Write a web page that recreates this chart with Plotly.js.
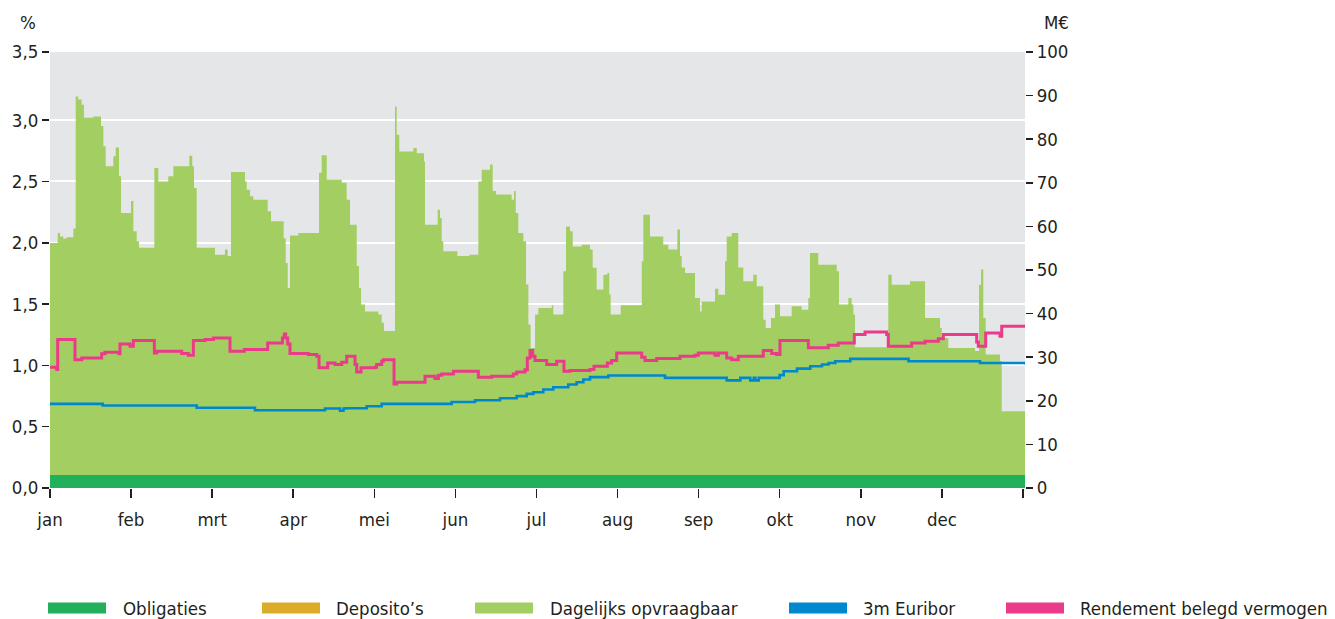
<!DOCTYPE html>
<html>
<head>
<meta charset="utf-8">
<script src="https://cdn.plot.ly/plotly-3.0.1.min.js"></script>
<style>
  html, body { margin: 0; padding: 0; background: #ffffff; }
  #chart { width: 1335px; height: 619px; }
</style>
</head>
<body>
<div id="chart"></div>
<script>
// ---------- DATA ----------
// x positions are in month units (0 = start of jan, 12 = end of dec)
const monthLabels = ['jan', 'feb', 'mrt', 'apr', 'mei', 'jun', 'jul', 'aug', 'sep', 'okt', 'nov', 'dec', ''];
const monthTicks = [0, 1, 2, 3, 4, 5, 6, 7, 8, 9, 10, 11, 12];

// Obligaties (M€, right axis)
const obligX = [0, 12.025];
const obligM = [3, 3];

// Dagelijks opvraagbaar (M€, right axis, stacked on Obligaties), step values
const dagX = [0, 0.095, 0.123, 0.164, 0.206, 0.288, 0.317, 0.349, 0.391, 0.419, 0.534, 0.629, 0.658, 0.687, 0.781, 0.810, 0.851, 0.876, 0.999,
  1.028, 1.069, 1.098, 1.287, 1.336, 1.459, 1.521, 1.718, 1.755, 1.776, 1.809,
  2.035, 2.158, 2.191, 2.232, 2.405, 2.426, 2.467, 2.508, 2.685, 2.726, 2.882, 2.907, 2.932, 2.960,
  3.063, 3.318, 3.351, 3.413, 3.598, 3.659, 3.700, 3.783, 3.811, 3.836, 3.885,
  4.049, 4.091, 4.119, 4.255, 4.276, 4.308, 4.481, 4.523, 4.613, 4.625, 4.781, 4.810, 4.831, 4.851,
  5.024, 5.172, 5.283, 5.324, 5.427, 5.460, 5.501, 5.694, 5.723, 5.744, 5.776, 5.838, 5.871, 5.900, 5.928, 5.982,
  6.023, 6.188, 6.208, 6.331, 6.364, 6.413, 6.447, 6.558, 6.660, 6.693, 6.742, 6.825, 6.874, 6.898, 6.915,
  7.039, 7.298, 7.318, 7.400, 7.564, 7.626, 7.737, 7.770, 7.791, 7.832, 7.955,
  8.017, 8.037, 8.202, 8.243, 8.325, 8.346, 8.408, 8.489, 8.551, 8.674, 8.716, 8.797, 8.827, 8.892, 8.942,
  9.003, 9.147, 9.271, 9.353, 9.373, 9.476, 9.703, 9.731, 9.846, 9.887, 9.908, 9.929,
  10.339, 10.381, 10.607, 10.792, 10.977, 10.998,
  11.079, 11.409, 11.458, 11.483, 11.511, 11.540, 11.717, 11.738, 12.025];
const dagM = [53.2, 55.5, 54.7, 54.2, 54.5, 56.5, 86.8, 86.1, 84.9, 81.9, 82.2, 80.0, 75.4, 70.8, 73.1, 75.1, 68.5, 60.1, 62.8,
  55.9, 53.6, 52.1, 70.4, 67.3, 68.5, 70.8, 73.2, 70.8, 65.8, 52.1,
  50.5, 51.7, 50.2, 69.5, 67.3, 65.4, 63.9, 63.1, 60.5, 58.2, 54.3, 48.6, 42.9, 54.9,
  55.5, 69.3, 73.3, 67.7, 67.0, 63.1, 57.4, 47.9, 42.9, 39.1, 37.5,
  36.8, 34.9, 33.0, 84.5, 78.0, 74.2, 75.0, 73.8, 71.9, 57.4, 60.8, 58.9, 53.6, 51.3,
  50.2, 50.5, 67.3, 70.0, 71.2, 65.1, 64.3, 63.1, 65.1, 60.1, 55.5, 53.6, 43.7, 34.5, 29.1, 36.8,
  38.3, 38.9, 36.8, 46.7, 57.0, 55.9, 52.4, 52.8, 51.7, 47.5, 42.5, 45.9, 46.3, 41.4, 36.8,
  38.9, 49.0, 59.7, 54.7, 52.8, 51.7, 56.3, 50.2, 47.6, 46.3, 40.6,
  37.5, 39.8, 42.7, 41.3, 49.0, 54.7, 55.5, 47.6, 44.4, 45.9, 43.3, 35.6, 33.7, 36.0, 39.1,
  36.4, 38.7, 37.9, 40.6, 50.9, 48.2, 46.7, 39.1, 40.6, 39.1, 36.8, 29.3,
  45.9, 43.6, 44.4, 36.0, 33.7, 31.4,
  29.1, 28.4, 43.6, 47.1, 36.0, 27.6, 26.1, 14.6, 14.6];

// 3m Euribor (%, left axis), step values
const euriborX = [0, 0.650, 1.809, 2.528, 3.392, 3.577, 3.620, 3.651, 3.906, 4.091, 4.954, 5.242, 5.550, 5.756, 5.879, 5.961,
  6.084, 6.207, 6.392, 6.495, 6.578, 6.660, 6.886, 7.585, 8.346, 8.514, 8.637, 8.680, 8.700, 8.741, 8.999,
  9.049, 9.213, 9.377, 9.521, 9.603, 9.685, 9.870, 10.588, 11.470, 12.025];
const euriborP = [0.686, 0.673, 0.654, 0.634, 0.648, 0.630, 0.648, 0.651, 0.667, 0.686, 0.702, 0.716, 0.732, 0.749, 0.768, 0.781,
  0.803, 0.822, 0.844, 0.863, 0.885, 0.904, 0.917, 0.898, 0.878, 0.898, 0.878, 0.898, 0.878, 0.898, 0.921,
  0.952, 0.974, 0.993, 1.007, 1.020, 1.034, 1.053, 1.034, 1.020, 1.007];

// Rendement belegd vermogen (%, left axis), step values
const rendX = [0, 0.082, 0.095, 0.308, 0.391, 0.637, 0.678, 0.851, 0.863, 0.987, 1.028, 1.287, 1.316, 1.624, 1.706, 1.768, 1.912,
  2.015, 2.220, 2.397, 2.685, 2.866, 2.890, 2.907, 2.932, 2.960, 3.186, 3.289, 3.318, 3.425, 3.515, 3.598, 3.659, 3.762, 3.783, 3.836,
  4.008, 4.029, 4.091, 4.111, 4.243, 4.276, 4.625, 4.748, 4.790, 4.831, 4.975, 5.283, 5.447, 5.714, 5.756, 5.858, 5.887, 5.920, 5.953, 5.982,
  6.126, 6.249, 6.339, 6.414, 6.660, 6.709, 6.874, 6.927, 6.989, 7.298, 7.339, 7.482, 7.770, 7.955, 7.996,
  8.202, 8.243, 8.346, 8.408, 8.489, 8.797, 8.901, 8.962, 9.003, 9.353, 9.599, 9.722, 9.920,
  10.052, 10.319, 10.339, 10.627, 10.792, 10.956, 11.018, 11.429, 11.449, 11.540, 11.717, 11.738, 12.025];
const rendP = [0.985, 0.966, 1.211, 1.047, 1.061, 1.094, 1.107, 1.094, 1.175, 1.156, 1.202, 1.102, 1.115, 1.097, 1.083, 1.202, 1.211,
  1.224, 1.115, 1.129, 1.183, 1.224, 1.257, 1.224, 1.175, 1.096, 1.088, 1.075, 0.980, 1.020, 1.007, 1.025, 1.075, 1.007, 0.947, 0.980,
  0.985, 1.007, 1.034, 1.047, 0.849, 0.863, 0.912, 0.893, 0.920, 0.930, 0.952, 0.903, 0.912, 0.930, 0.947, 0.965, 1.061, 1.121, 1.075, 1.039,
  1.007, 1.034, 0.952, 0.958, 0.966, 0.993, 1.020, 1.039, 1.102, 1.067, 1.039, 1.056, 1.075, 1.083, 1.102,
  1.083, 1.102, 1.061, 1.047, 1.075, 1.121, 1.097, 1.088, 1.202, 1.143, 1.164, 1.183, 1.251,
  1.273, 1.251, 1.156, 1.183, 1.197, 1.218, 1.251, 1.190, 1.156, 1.264, 1.237, 1.319, 1.311];

// Axis ticks
const leftTickVals = [0, 0.5, 1, 1.5, 2, 2.5, 3, 3.556];
const leftTickText = ['0,0', '0,5', '1,0', '1,5', '2,0', '2,5', '3,0', '3,5'];
const rightTickVals = [0, 10, 20, 30, 40, 50, 60, 70, 80, 90, 100];

// Legend
const legendLabels = ['Obligaties', 'Deposito’s', 'Dagelijks opvraagbaar', '3m Euribor', 'Rendement belegd vermogen'];
const legendColors = ['#22b05a', '#dcab27', '#a3cf62', '#0088cf', '#ec3a8a'];

// ---------- LAYOUT CONSTANTS ----------
const W = 1335, H = 619;
const M = { l: 50, r: 310, t: 52, b: 131 };
const plotW = W - M.l - M.r, plotH = H - M.t - M.b;
const px2x = px => (px - M.l) / plotW;
const py2y = py => (H - M.b - py) / plotH;
const FONT = "'DejaVu Sans Condensed', 'Liberation Sans Narrow', 'DejaVu Sans', sans-serif";
const FS = 18.5;
const TXT = '#231f20';

const legendRectX = [48, 262, 475, 789, 1006];
const legendTextX = [121, 334, 548, 861, 1078];
const legendY = 608;

// ---------- TRACES ----------
// 'y' = M€ axis (right, base layer), 'y2' = % axis (left, overlay so lines sit on top)
const traces = [
  {
    x: obligX, y: obligM, yaxis: 'y', type: 'scatter', mode: 'lines',
    stackgroup: 'geld', stackgaps: 'interpolate',
    line: { width: 0, shape: 'hv', color: legendColors[0] },
    fillcolor: legendColors[0], name: legendLabels[0], showlegend: false, hoverinfo: 'skip'
  },
  {
    x: dagX, y: dagM, yaxis: 'y', type: 'scatter', mode: 'lines',
    stackgroup: 'geld',
    line: { width: 0, shape: 'hv', color: legendColors[2] },
    fillcolor: legendColors[2], name: legendLabels[2], showlegend: false, hoverinfo: 'skip'
  },
  {
    x: euriborX, y: euriborP, yaxis: 'y2', type: 'scatter', mode: 'lines',
    line: { width: 2.6, shape: 'hv', color: legendColors[3] },
    name: legendLabels[3], showlegend: false, hoverinfo: 'skip'
  },
  {
    x: rendX, y: rendP, yaxis: 'y2', type: 'scatter', mode: 'lines',
    line: { width: 3, shape: 'hv', color: legendColors[4] },
    name: legendLabels[4], showlegend: false, hoverinfo: 'skip'
  }
];

// ---------- LEGEND (shapes + text) ----------
const shapes = legendLabels.map((lab, i) => ({
  type: 'rect', xref: 'paper', yref: 'paper',
  x0: px2x(legendRectX[i]), x1: px2x(legendRectX[i] + 58),
  y0: py2y(legendY + 5.5), y1: py2y(legendY - 5.5),
  fillcolor: legendColors[i], line: { width: 0 }
}));
const annotations = legendLabels.map((lab, i) => ({
  text: lab, xref: 'paper', yref: 'paper',
  x: px2x(legendTextX[i]), y: py2y(legendY),
  xanchor: 'left', yanchor: 'middle', showarrow: false,
  font: { family: FONT, size: FS, color: TXT }
}));
annotations.push({
  text: '%', xref: 'paper', yref: 'paper', x: px2x(28), y: py2y(22),
  xanchor: 'center', yanchor: 'middle', showarrow: false,
  font: { family: FONT, size: FS, color: TXT }
});
annotations.push({
  text: 'M€', xref: 'paper', yref: 'paper', x: px2x(1042), y: py2y(22),
  xanchor: 'left', yanchor: 'middle', showarrow: false,
  font: { family: FONT, size: FS, color: TXT }
});

const layout = {
  width: W, height: H,
  margin: M,
  paper_bgcolor: '#ffffff',
  plot_bgcolor: '#e5e6e8',
  showlegend: false,
  separators: ',.',
  font: { family: FONT, size: FS, color: TXT },
  xaxis: {
    range: [0, 12.025], tickvals: monthTicks, ticktext: monthLabels,
    ticks: 'outside', ticklen: 9, tickwidth: 1.5, tickcolor: TXT,
    ticklabelstandoff: 6,
    showgrid: false, zeroline: false, showline: false, fixedrange: true,
    tickfont: { family: FONT, size: FS, color: TXT }
  },
  yaxis: {
    range: [0, 100], tickvals: rightTickVals, side: 'right',
    ticks: 'outside', ticklen: 7, tickwidth: 1.5, tickcolor: TXT,
    showgrid: false, zeroline: false, showline: false, fixedrange: true,
    tickfont: { family: FONT, size: FS, color: TXT }
  },
  yaxis2: {
    range: [0, 3.556], tickvals: leftTickVals, ticktext: leftTickText,
    overlaying: 'y', side: 'left',
    ticks: 'outside', ticklen: 7, tickwidth: 1.5, tickcolor: TXT,
    showgrid: true, gridcolor: '#ffffff', gridwidth: 2,
    zeroline: false, showline: false, fixedrange: true,
    tickfont: { family: FONT, size: FS, color: TXT }
  },
  shapes: shapes,
  annotations: annotations
};

Plotly.newPlot('chart', traces, layout, { staticPlot: true, displayModeBar: false });
</script>
</body>
</html>
